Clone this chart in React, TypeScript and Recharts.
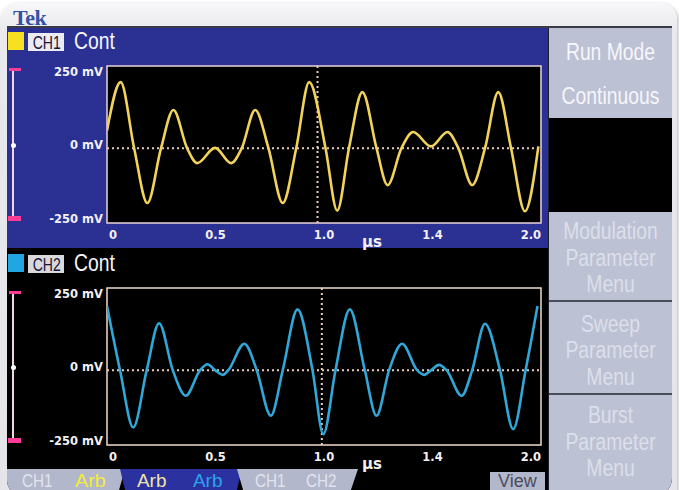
import React from 'react';
import { LineChart, Line, XAxis, YAxis, ReferenceArea, ReferenceLine } from 'recharts';

// readings from the two traces (time in µs, level in mV)
const ch1Time = [0, 0.063, 0.125, 0.186, 0.249, 0.306, 0.369, 0.416, 0.498, 0.572, 0.621, 0.683, 0.744, 0.81, 0.872, 0.932, 1.007, 1.061, 1.115, 1.177, 1.242, 1.293, 1.357, 1.411, 1.493, 1.569, 1.619, 1.683, 1.742, 1.803, 1.862, 1.926, 1.988];
const ch1Mv = [60, 225, 0, -187, 0, 130, 0, -51, 1, -51, 0, 130, 0, -187, 0, 225, 0, -213, 0, 191, 0, -126, 0, 55, 6, 55, 0, -126, 0, 191, 0, -215, 6];

const ch2Time = [0, 0.06, 0.121, 0.183, 0.24, 0.303, 0.363, 0.429, 0.463, 0.498, 0.534, 0.559, 0.633, 0.69, 0.755, 0.81, 0.878, 0.947, 0.997, 1.053, 1.119, 1.188, 1.242, 1.3, 1.36, 1.429, 1.462, 1.494, 1.53, 1.565, 1.634, 1.683, 1.742, 1.811, 1.872, 1.929, 1.984];
const ch2Mv = [219, 0, -195, 0, 160, 0, -87, 0, 20, 0, -16, 0, 90, 0, -155, 0, 207, 0, -218, 0, 207, 0, -155, 0, 90, 0, -16, 0, 18, 0, -87, 0, 158, 0, -201, 0, 219];

const timeTicks = [0, 0.5, 1, 1.5, 2];
const timeTickLabels = ['0', '0.5', '1.0', '1.4', '2.0'];
const voltTicks = [-250, 0, 250];
const voltTickLabels = ['-250 mV', '0 mV', '250 mV'];
const ch1Cursor = 0.97;
const ch2Cursor = 0.99;

const ch1Data = ch1Time.map((t, i) => ({ t, v: ch1Mv[i] }));
const ch2Data = ch2Time.map((t, i) => ({ t, v: ch2Mv[i] }));

const SANS = '"Liberation Sans", Arial, sans-serif';
const LABEL = '"DejaVu Sans", sans-serif';

const OX = 7;
const OY = 26;
const box = (x: number, y: number, w: number, h: number, extra: React.CSSProperties = {}): React.CSSProperties => ({
  position: 'absolute', left: x - OX, top: y - OY, width: w, height: h, ...extra,
});

// text centred vertically on cy, squeezed horizontally by sx
const Txt = ({ x, cy, w, text, size, color, family = SANS, weight = 'normal', align = 'left', sx = 1 }: any) => (
  <div style={box(x, cy - size / 2, w, size, {
    lineHeight: `${size}px`, fontSize: size, fontFamily: family, fontWeight: weight,
    color, textAlign: align, whiteSpace: 'nowrap',
    transform: `scaleX(${sx})`, transformOrigin: align === 'center' ? 'center' : 'left center',
  })}>{text}</div>
);

const xTick = (p: any) => {
  const i = timeTicks.indexOf(p.payload.value);
  const anchor = i === 0 ? 'start' : i === timeTicks.length - 1 ? 'end' : 'middle';
  return (
    <text x={p.x + (i === 0 ? 2 : 0)} y={p.y + 12} textAnchor={anchor} dominantBaseline="central"
      fill="#f3f0f2" fontFamily={LABEL} fontWeight="bold" fontSize={11.5}>
      {timeTickLabels[i]}
    </text>
  );
};

const yTick = (p: any) => {
  const i = voltTicks.indexOf(p.payload.value);
  return (
    <text x={p.x - 4} y={p.y - 3} textAnchor="end" dominantBaseline="central"
      fill="#f3f0f2" fontFamily={LABEL} fontWeight="bold" fontSize={11.5}>
      {voltTickLabels[i]}
    </text>
  );
};

const Scope = ({ data, color, frame, cursor }: any) => (
  <LineChart width={541} height={194} data={data} margin={{ top: 10, right: 7, bottom: 0, left: 0 }}>
    <XAxis dataKey="t" type="number" domain={[0, 2]} ticks={timeTicks} interval={0} tick={xTick}
      axisLine={false} tickLine={false} tickSize={0} tickMargin={0} height={27} allowDataOverflow />
    <YAxis type="number" domain={[-255, 280]} ticks={voltTicks} interval={0} tick={yTick}
      axisLine={false} tickLine={false} tickSize={0} tickMargin={0} width={100} allowDataOverflow />
    <ReferenceArea x1={0} x2={2} y1={-255} y2={280} fill="#000" fillOpacity={1} stroke={frame} strokeWidth={1.5} />
    <ReferenceLine y={0} stroke="#e9cbbd" strokeWidth={2} strokeDasharray="2 3" />
    <ReferenceLine x={cursor} stroke="#e9cbbd" strokeWidth={2} strokeDasharray="2 3" />
    <Line dataKey="v" type="monotone" stroke={color} strokeWidth={2.6} dot={false} isAnimationActive={false} />
  </LineChart>
);

const ScaleBar = ({ top, bottom, mid }: any) => (
  <>
    <div style={box(12, top, 2, bottom - top, { background: '#f2d6e6' })} />
    <div style={box(9, top - 2, 12, 3, { background: '#ff3c96' })} />
    <div style={box(8, bottom - 3, 13, 5, { background: '#ff3c96' })} />
    <div style={box(10.5, mid - 2.5, 5, 5, { background: '#fff', borderRadius: 3 })} />
  </>
);

const Header = ({ y, swatch, name, boxBg }: any) => (
  <>
    <div style={box(8, y, 16, 18, { background: swatch })} />
    <div style={box(28, y + 1, 36, 18, { background: boxBg })} />
    <Txt x={28} cy={y + 10} w={36} text={name} size={19} color="#15153a" align="center" sx={0.74} />
    <Txt x={74} cy={y + 9.5} w={60} text="Cont" size={23} color="#f6f6fa" sx={0.84} />
  </>
);

const menuLines = [
  ['Run Mode', 52, '#f6f6fb'], ['Continuous', 96, '#f6f6fb'],
  ['Modulation', 231, '#dcdfea'], ['Parameter', 258, '#dcdfea'], ['Menu', 284, '#dcdfea'],
  ['Sweep', 324, '#dcdfea'], ['Parameter', 350, '#dcdfea'], ['Menu', 377, '#dcdfea'],
  ['Burst', 415, '#dcdfea'], ['Parameter', 442, '#dcdfea'], ['Menu', 468, '#dcdfea'],
];

export default function App() {
  return (
    <div style={{ position: 'absolute', left: 0, top: 0, width: 679, height: 490, overflow: 'hidden', background: '#fff' }}>
      <div style={{ position: 'absolute', left: 0, top: 3, width: 677, height: 540, borderRadius: 16,
        background: 'linear-gradient(#f7f7f9, #e9e9ed 30px, #e4e4e8)', boxShadow: '1px 1px 3px rgba(0,0,0,0.3)' }} />
      <div style={{ position: 'absolute', left: 13, top: 6.6, fontFamily: '"Liberation Serif", serif', fontWeight: 'bold',
        fontSize: 22, lineHeight: '22px', color: '#3352a4', letterSpacing: -0.5 }}>Tek</div>

      <div style={{ position: 'absolute', left: OX, top: OY, width: 665, height: 470, background: '#000',
        borderBottomLeftRadius: 16, borderBottomRightRadius: 18, overflow: 'hidden' }}>
        <div style={box(7, 26, 665, 2, { background: '#3b3b46' })} />

        {/* CH1 panel */}
        <div style={box(7, 28, 541, 220, { background: '#2a3192' })} />
        <Header y={32} swatch="#f7df22" name="CH1" boxBg="#ebebf1" />
        <ScaleBar top={70} bottom={219} mid={145} />
        <div style={box(7, 56, 541, 194)}>
          <Scope data={ch1Data} color="#f2d35a" frame="#ead4de" cursor={ch1Cursor} />
        </div>
        <Txt x={362} cy={242} w={30} text="µs" size={15} color="#f3f0f2" family={LABEL} weight="bold" />

        {/* CH2 panel */}
        <Header y={254} swatch="#22a6e2" name="CH2" boxBg="#d9d9dc" />
        <ScaleBar top={293} bottom={441} mid={367} />
        <div style={box(7, 278, 541, 194)}>
          <Scope data={ch2Data} color="#30a7d7" frame="#f2dccc" cursor={ch2Cursor} />
        </div>
        <Txt x={362} cy={464} w={30} text="µs" size={15} color="#f3f0f2" family={LABEL} weight="bold" />

        {/* soft key bar */}
        <div style={box(7, 469, 118, 25, { background: '#b3b7cb', clipPath: 'polygon(0 0, 100% 0, 94% 100%, 0 100%)' })} />
        <div style={box(120, 469, 122, 25, { background: '#2b32a0', clipPath: 'polygon(0 0, 100% 0, 95% 100%, 5% 100%)' })} />
        <div style={box(237, 469, 121, 25, { background: '#b3b7cb', clipPath: 'polygon(0 0, 100% 0, 93% 100%, 6% 100%)' })} />
        <div style={box(490, 472, 55, 22, { background: '#b3b7cb' })} />
        <Txt x={22} cy={481} w={40} text="CH1" size={18} color="#e1e4ee" sx={0.85} />
        <Txt x={75} cy={481} w={40} text="Arb" size={18} color="#f4ec3c" sx={1.1} />
        <Txt x={137} cy={481} w={40} text="Arb" size={18} color="#efe6a6" sx={1.05} />
        <Txt x={193} cy={481} w={40} text="Arb" size={18} color="#2aa4ee" sx={1.05} />
        <Txt x={255} cy={481} w={40} text="CH1" size={18} color="#e1e4ee" sx={0.85} />
        <Txt x={306} cy={481} w={40} text="CH2" size={18} color="#e1e4ee" sx={0.85} />
        <Txt x={498} cy={481} w={45} text="View" size={18} color="#4c4c5c" />

        {/* side menu */}
        <div style={box(548, 28, 1, 470, { background: '#1c1c2c' })} />
        <div style={box(549, 28, 123, 470, { background: '#bdc1d4' })} />
        <div style={box(549, 118, 123, 94, { background: '#000' })} />
        <div style={box(549, 300, 123, 2, { background: '#4b4e59' })} />
        <div style={box(549, 393, 123, 2, { background: '#4b4e59' })} />
        {menuLines.map(([t, y, c], i) => (
          <Txt key={i} x={549} cy={y} w={123} text={t} size={23} color={c} align="center" sx={0.84} />
        ))}
      </div>
    </div>
  );
}
